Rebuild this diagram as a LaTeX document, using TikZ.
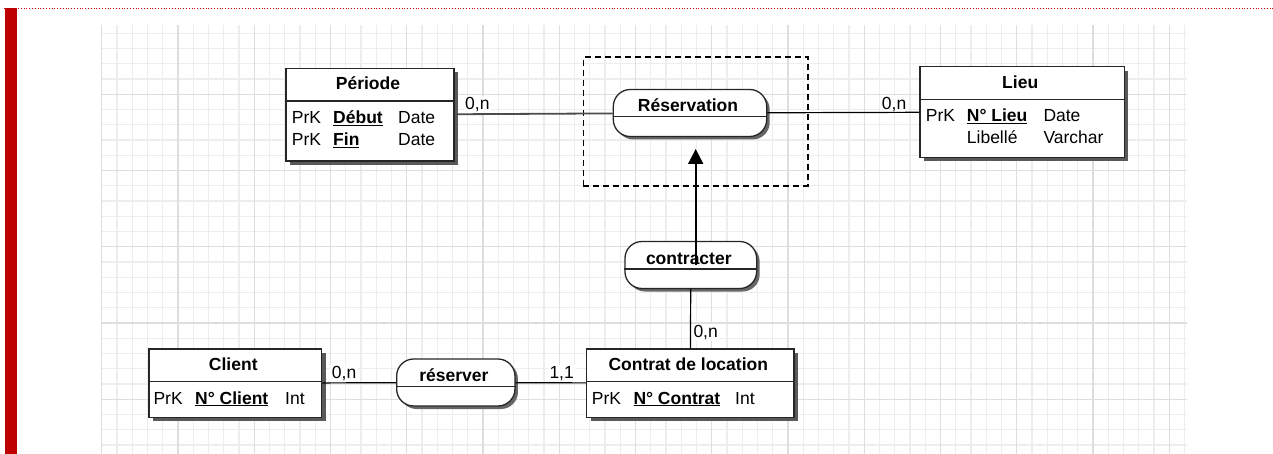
\documentclass[tikz,border=0pt]{standalone}
\usepackage{fontspec}
\setmainfont{Liberation Sans}
\usetikzlibrary{arrows.meta, positioning, shapes, shadows}

\newcommand{\cle}[1]{\underline{\textbf{#1}}}

\begin{document}
\begin{tikzpicture}[
    x=1pt, y=-1pt,
    font=\fontsize{17.5}{21}\selectfont,
    grid minor/.style={draw=black!7, line width=1.2pt},
    grid major/.style={draw=black!13, line width=1.2pt},
    entity/.style={rectangle, draw=black!85, line width=1.3pt, fill=white, inner sep=0pt,
        drop shadow={shadow xshift=4pt, shadow yshift=-4pt, fill=black!65, opacity=1}},
    relation/.style={rectangle, rounded corners=17pt, draw=black!85, line width=1.3pt, fill=white,
        inner sep=0pt, minimum height=47pt,
        drop shadow={shadow xshift=3pt, shadow yshift=-3pt, fill=black!60, opacity=1}},
    title/.style={font=\fontsize{17.5}{21}\selectfont\bfseries, anchor=base, inner sep=0pt},
    attr/.style={anchor=base west, inner sep=0pt},
    card/.style={anchor=base west, fill=white, inner sep=1.5pt},
    divider/.style={draw=black!85, line width=1.3pt},
    link/.style={draw=black, line width=1.2pt},
    aggregate/.style={draw=black, dash pattern=on 6pt off 4pt, line width=1.6pt, inner sep=0pt}
]
    \useasboundingbox (0,0) rectangle (1273,454);

    % background grid and margin
    \foreach \k in {0,...,71}
        \draw[grid minor] ({101.75+15.25*\k},25) -- ({101.75+15.25*\k},454);
    \foreach \k in {1,...,28}
        \draw[grid minor] (101.75,{18.05+15.25*\k}) -- (1187,{18.05+15.25*\k});
    \foreach \k in {0,...,14}
        \draw[grid major] ({101.75+76.25*\k},25) -- ({101.75+76.25*\k},454);
    \foreach \k in {1,...,5}
        \draw[grid major] (101.75,{18.05+76.25*\k}) -- (1187,{18.05+76.25*\k});
    \draw[red!85!black, dotted, line width=0.8pt] (4,8) -- (1273,8);
    \fill[red!75!black] (5,8) rectangle (17,454);

    % aggregation
    \node[aggregate, minimum width=224.4pt, minimum height=128.7pt] (agg) at (695.5,121.65) {};
    \coordinate (agg-tip) at (695.7,149);

    % entities
    \node[entity, minimum width=168pt, minimum height=92.7pt] (periode) at (370,114.7) {};
    \draw[divider] ([yshift=-33.4pt]periode.north west) -- ([yshift=-33.4pt]periode.north east);
    \node[title] (periode-title) at (368,89.8) {Période};
    \node[attr] (periode-prk1) at (291.7,123.3) {PrK};
    \node[attr] (periode-debut) at (333,123.3) {\cle{Début}};
    \node[attr] (periode-type1) at (398,123.3) {Date};
    \node[attr] (periode-prk2) at (291.7,145.7) {PrK};
    \node[attr] (periode-fin) at (333,145.7) {\cle{Fin}};
    \node[attr] (periode-type2) at (398,145.7) {Date};

    \node[entity, minimum width=204.3pt, minimum height=90.6pt] (lieu) at (1022.2,112) {};
    \draw[divider] ([yshift=-33.3pt]lieu.north west) -- ([yshift=-33.3pt]lieu.north east);
    \node[title] (lieu-title) at (1020.2,88.3) {Lieu};
    \node[attr] (lieu-prk) at (925.7,121.7) {PrK};
    \node[attr] (lieu-num) at (966.7,121.7) {\cle{N° Lieu}};
    \node[attr] (lieu-type1) at (1043.3,121.7) {Date};
    \node[attr] (lieu-libelle) at (966.7,144) {Libellé};
    \node[attr] (lieu-type2) at (1043.3,144) {Varchar};

    \node[entity, minimum width=172.7pt, minimum height=68.3pt] (client) at (235.3,383.2) {};
    \draw[divider] ([yshift=-33.3pt]client.north west) -- ([yshift=-33.3pt]client.north east);
    \node[title] (client-title) at (233.3,370.7) {Client};
    \node[attr] (client-prk) at (153.3,404) {PrK};
    \node[attr] (client-num) at (195,404) {\cle{N° Client}};
    \node[attr] (client-type) at (285,404) {Int};

    \node[entity, minimum width=207.3pt, minimum height=68.3pt] (contrat) at (690.3,383.2) {};
    \draw[divider] ([yshift=-33.3pt]contrat.north west) -- ([yshift=-33.3pt]contrat.north east);
    \node[title] (contrat-title) at (688.3,370.7) {Contrat de location};
    \node[attr] (contrat-prk) at (591.7,404) {PrK};
    \node[attr] (contrat-num) at (633.3,404) {\cle{N° Contrat}};
    \node[attr] (contrat-type) at (735,404) {Int};

    % relations
    \node[relation, minimum width=153.4pt] (reservation) at (690,113) {};
    \draw[divider] ([yshift=-28pt]reservation.north west) -- ([yshift=-28pt]reservation.north east);
    \node[title] (reservation-title) at (688,112) {Réservation};

    \node[relation, minimum width=131.7pt] (contracter) at (690.8,265) {};
    \draw[divider] ([yshift=-28pt]contracter.north west) -- ([yshift=-28pt]contracter.north east);
    \node[title] (contracter-title) at (688.8,264) {contracter};

    \node[relation, minimum width=118.3pt] (reserver) at (455.8,382.5) {};
    \draw[divider] ([yshift=-28pt]reserver.north west) -- ([yshift=-28pt]reserver.north east);
    \node[title] (reserver-title) at (453.8,381.5) {réserver};

    % cardinalities and links
    \node[card] (card-periode) at (463.5,109.5) {0,n};
    \node[card] (card-lieu) at (880.2,109.3) {0,n};
    \node[card] (card-client) at (330.2,378.3) {0,n};
    \node[card] (card-contrat) at (547.8,378.3) {1,1};

    \draw[link, draw=black!70, line width=1.8pt] (periode) -- (reservation);
    \draw[link] (reservation) -- (lieu);
    \draw[link] (client) -- (reserver);
    \draw[link] (reserver) -- (contrat);
    \draw[link] (contracter) -- (contrat);
    \node[card] (card-contracter) at (691.8,337.3) {0,n};

    \draw[link, line width=1.8pt, -{Triangle[length=15pt, width=15pt]}] (contracter.center -| agg-tip) -- (agg-tip);
\end{tikzpicture}
\end{document}
